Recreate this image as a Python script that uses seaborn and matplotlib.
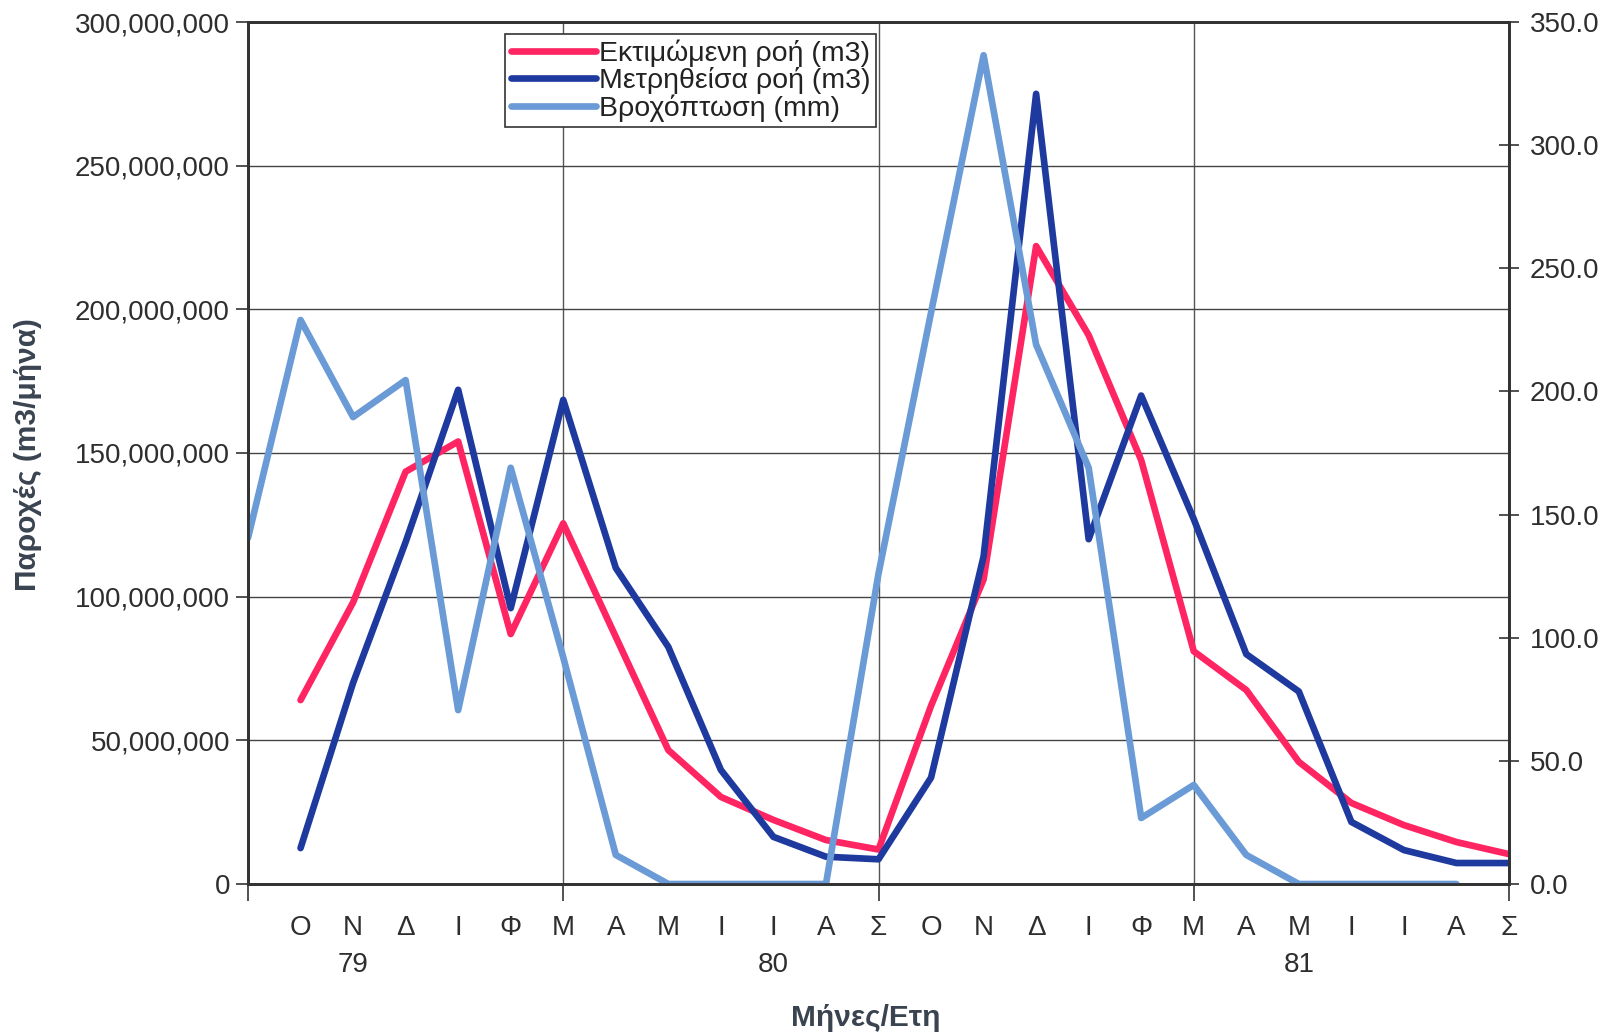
import numpy as np
import pandas as pd
import matplotlib
matplotlib.use("Agg")
import matplotlib.pyplot as plt
import seaborn as sns
from matplotlib.ticker import FuncFormatter, FixedLocator
from matplotlib.lines import Line2D

sns.set_theme(style="white")
plt.rcParams['font.family'] = ['Liberation Sans', 'DejaVu Sans']

# ---- data ----
month_labels = ["Ο", "Ν", "Δ", "Ι", "Φ", "Μ", "Α", "Μ", "Ι", "Ι", "Α", "Σ",
                "Ο", "Ν", "Δ", "Ι", "Φ", "Μ", "Α", "Μ", "Ι", "Ι", "Α", "Σ"]
year_labels = ["79", "80", "81"]
year_positions = [2, 10, 20]

# Estimated flow (m3), months 1..24
estimated_flow = [64e6, 98e6, 143.5e6, 154e6, 87e6, 125.5e6, 86e6, 46.6e6, 30.3e6,
                  22.3e6, 15.3e6, 12e6, 62e6, 106e6, 222e6, 191e6, 147.5e6, 81e6,
                  67.5e6, 42.5e6, 28.2e6, 20.5e6, 14.6e6, 10.4e6]
# Measured flow (m3), months 1..24
measured_flow = [12.5e6, 70e6, 119e6, 172e6, 96e6, 168.5e6, 110e6, 82.5e6, 39.7e6,
                 16.4e6, 9.5e6, 8.6e6, 37e6, 114e6, 275e6, 120e6, 170e6, 127e6,
                 80e6, 67e6, 21.6e6, 11.8e6, 7.3e6, 7.3e6]
# Rainfall (mm), months 0..23
rainfall = [140.5, 229, 189.6, 204.6, 70.6, 169, 92, 11.8, 0, 0, 0, 0,
            126, 232, 336.5, 219, 169, 26.8, 40.2, 11.8, 0, 0, 0, 0]

flow_df = pd.DataFrame({
    "month": np.arange(1, 25),
    "est": estimated_flow,
    "meas": measured_flow,
})
rain_df = pd.DataFrame({"month": np.arange(0, 24), "rain": rainfall})

labels = ["Εκτιμώμενη ροή (m3)", "Μετρηθείσα ροή (m3)", "Βροχόπτωση (mm)"]
c_red = "#FF2462"
c_blue = "#1F3A9E"
c_rain = "#6A9BD6"
text_c = "#2e2e2e"
fs = 20

fig = plt.figure(figsize=(16.21, 10.36), dpi=100)
ax = fig.add_axes([248/1621, 152/1036, 1261/1621, 862/1036])
ax2 = ax.twinx()

lw = 4.8
sns.lineplot(data=flow_df, x="month", y="est", ax=ax, color=c_red, lw=lw)
sns.lineplot(data=flow_df, x="month", y="meas", ax=ax, color=c_blue, lw=lw)
sns.lineplot(data=rain_df, x="month", y="rain", ax=ax2, color=c_rain, lw=lw)

ax.set_xlim(0, 24)
ax.set_ylim(0, 300e6)
ax2.set_ylim(0, 350)

# y ticks
ax.set_yticks(np.arange(0, 300e6 + 1, 50e6))
ax.yaxis.set_major_formatter(FuncFormatter(lambda v, p: f"{v:,.0f}"))
ax2.set_yticks(np.arange(0, 351, 50))
ax2.yaxis.set_major_formatter(FuncFormatter(lambda v, p: f"{v:.1f}"))

ax.tick_params(axis="y", which="major", direction="out", length=9, width=1.2,
               color="#333333", labelsize=fs, labelcolor=text_c, pad=4, left=True)
ax2.tick_params(axis="y", which="major", direction="inout", length=14, width=1.2,
                color="#333333", labelsize=fs, labelcolor=text_c, pad=8, right=True)

# x ticks: major at every 6 months (gridlines), minor carry month labels
ax.xaxis.remove_overlapping_locs = False
ax.xaxis.set_major_locator(FixedLocator([0, 6, 12, 18, 24]))
ax.set_xticklabels([])
ax.xaxis.set_minor_locator(FixedLocator(np.arange(1, 25)))
ax.set_xticklabels(month_labels, minor=True)
ax.tick_params(axis="x", which="major", direction="out", length=12, width=1.2,
               color="#333333", bottom=True)
ax.tick_params(axis="x", which="minor", length=0, labelsize=fs,
               labelcolor=text_c, pad=22)

ax.set_xlabel("")
ax.set_ylabel("")
ax2.set_ylabel("")

for yl, xp in zip(year_labels, year_positions):
    ax.text(xp, -0.094, yl, transform=ax.get_xaxis_transform(), ha="center",
            va="center", fontsize=fs, color=text_c)

# grid
ax.grid(True, axis="y", color="#444444", lw=1.0)
ax.grid(True, axis="x", which="major", color="#555555", lw=1.0)
ax.set_axisbelow(True)

for a in (ax, ax2):
    for s in a.spines.values():
        s.set_color("#333333")
        s.set_linewidth(2.0)

# legend
handles = [Line2D([], [], color=c_red, lw=lw),
           Line2D([], [], color=c_blue, lw=lw),
           Line2D([], [], color=c_rain, lw=lw)]
leg = fig.legend(handles, labels, loc="upper left",
                 bbox_to_anchor=(505/1621, 1 - 34/1036), fontsize=20.5,
                 handlelength=3.0, handletextpad=0.1, labelspacing=0.0,
                 borderpad=0.2, borderaxespad=0, fancybox=False, frameon=True,
                 framealpha=1)
leg.get_frame().set_edgecolor("#333333")
leg.get_frame().set_linewidth(1.2)
for t in leg.get_texts():
    t.set_color("#222222")

# axis titles
fig.text(28/1621, 1 - 455/1036, "Παροχές (m3/μήνα)", rotation=90, ha="center",
         va="center", fontsize=21.5, fontweight="bold", color="#3a4350")
fig.text(866/1621, 1 - 1018/1036, "Μήνες/Ετη", ha="center", va="center",
         fontsize=21.5, fontweight="bold", color="#3a4350")

fig.savefig("out.png", dpi=100, facecolor="white")
